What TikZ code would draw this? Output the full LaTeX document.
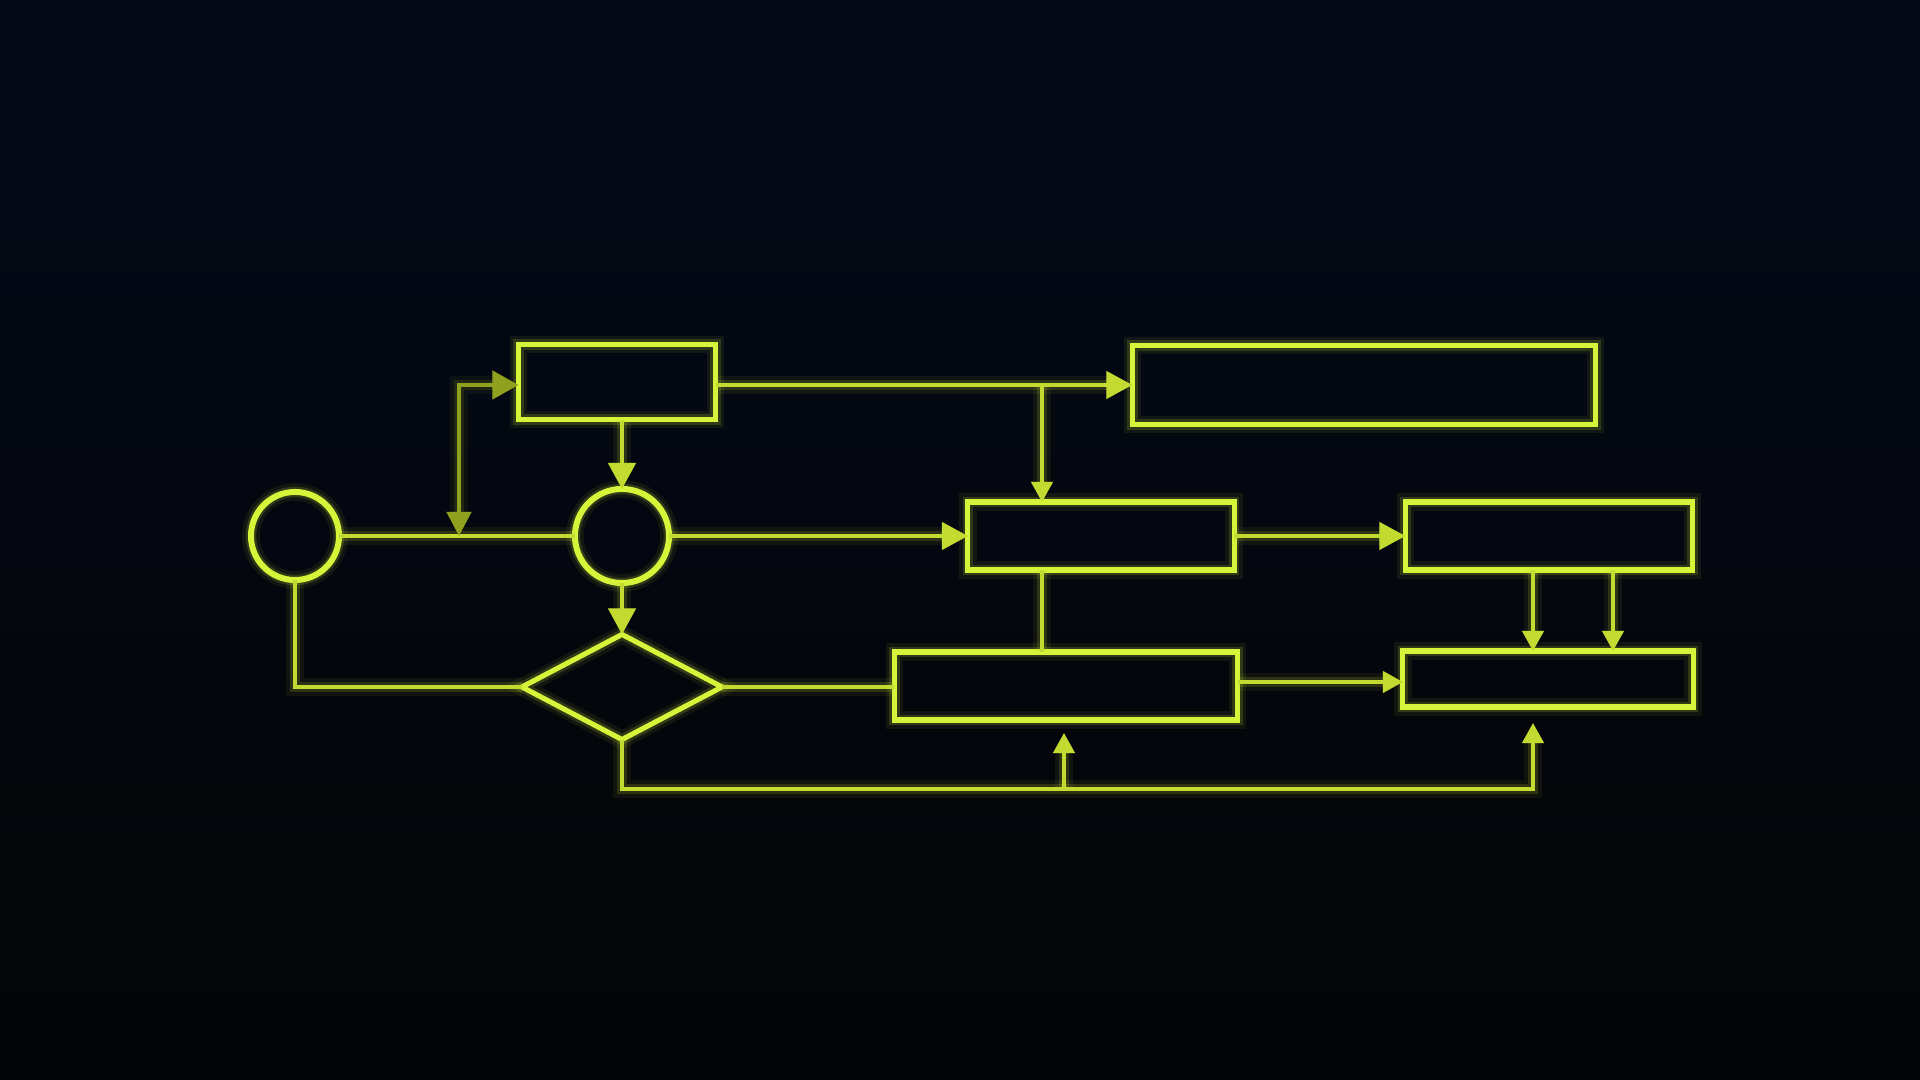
\documentclass[tikz,border=0pt]{standalone}
\usepackage{xcolor}
\usepackage{tikz}
\usetikzlibrary{shapes.geometric,arrows.meta}

\definecolor{neon}{HTML}{D6F43A}
\definecolor{wire}{HTML}{C3DA30}
\definecolor{olive}{HTML}{8FA11E}
\definecolor{skytop}{HTML}{050A19}
\definecolor{skybot}{HTML}{030405}

\tikzset{
        glow/.style={preaction={draw=#1,line width=5pt,opacity=0.07},
                preaction={draw=#1,line width=3pt,opacity=0.16}},
        block/.style={draw=neon,line width=1.45pt,inner sep=0pt,outer sep=0pt,glow=neon},
        ring/.style={circle,draw=neon,line width=1.7pt,inner sep=0pt,outer sep=0pt,glow=neon},
        choice/.style={diamond,draw=neon,line width=1.45pt,inner sep=0pt,outer sep=0pt,glow=neon},
        link/.style={draw=wire,line width=1.1pt,glow=wire},
        bigtip/.style={-{Triangle[length=0.26cm,width=0.27cm]}},
        smalltip/.style={-{Triangle[length=0.2cm,width=0.21cm]}}
}

\begin{document}
\begin{tikzpicture}[x=0.01cm,y=-0.01cm]
        \fill[top color=skytop,bottom color=skybot] (0,0) rectangle (1920,1080);
        \useasboundingbox (0,0) rectangle (1920,1080);

        % shapes
        \node[ring,minimum size=0.88cm] (start) at (295,536) {};
        \node[ring,minimum size=0.94cm] (merge) at (622,536) {};
        \node[choice,minimum width=2.0cm,minimum height=1.05cm] (test) at (622,687) {};
        \node[block,minimum width=1.97cm,minimum height=0.75cm] (topbox) at (617,382) {};
        \node[block,minimum width=4.63cm,minimum height=0.79cm] (widebox) at (1364,385) {};
        \node[block,minimum width=2.66cm,minimum height=0.68cm] (midbox) at (1101,536) {};
        \node[block,minimum width=2.87cm,minimum height=0.68cm] (rightbox) at (1549,536) {};
        \node[block,minimum width=3.43cm,minimum height=0.68cm] (lowbox) at (1066,686) {};
        \node[block,minimum width=2.9cm,minimum height=0.56cm] (endbox) at (1548,679) {};

        \coordinate (fork) at (459,536);
        \coordinate (split) at (1042,385);
        \coordinate (dropL) at (1533,0);
        \coordinate (dropR) at (1613,0);
        \coordinate (busM) at (1064,789);
        \coordinate (busR) at (1533,789);

        % connectors
        \draw[link] (start.east) -- (merge.west);
        \draw[draw=olive,line width=1.1pt,glow=olive,{Triangle[length=0.24cm,width=0.24cm]}-{Triangle[length=0.26cm,width=0.28cm]}] (fork) |- (topbox.west |- split);
        \draw[link,bigtip] (merge.north |- topbox.south) -- (merge.north);
        \draw[link,bigtip] (merge.south) -- (test.north);
        \draw[link,bigtip] (topbox.east |- split) -- (widebox.west |- split);
        \draw[link,smalltip] (split) -- (split |- midbox.north);
        \draw[link,bigtip] (merge.east) -- (midbox.west);
        \draw[link,bigtip] (midbox.east) -- (rightbox.west);
        \draw[link] (split |- midbox.south) -- (split |- lowbox.north);
        \draw[link] (start.south) |- (test.west);
        \draw[link] (test.east) -- (test.east -| lowbox.west);
        \draw[link,smalltip] (lowbox.east |- 0,682) -- (endbox.west |- 0,682);
        \draw[link,smalltip] (dropL |- rightbox.south) -- (dropL |- endbox.north);
        \draw[link,smalltip] (dropR |- rightbox.south) -- (dropR |- endbox.north);
        \draw[link,smalltip,shorten >=0.16cm] (test.south) |- (busR) -- (busR |- endbox.south);
        \draw[link,smalltip,shorten >=0.13cm] (busM) -- (busM |- lowbox.south);
\end{tikzpicture}
\end{document}
